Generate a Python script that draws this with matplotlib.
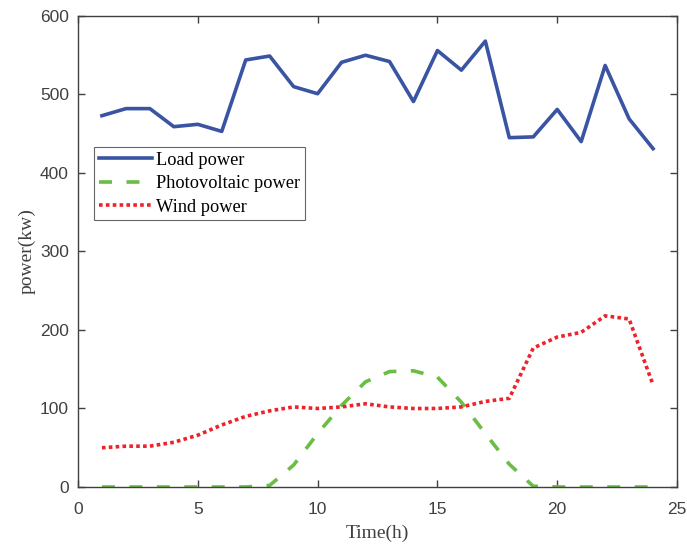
import matplotlib
matplotlib.use("Agg")
import matplotlib.pyplot as plt

hours = list(range(1, 25))
load_power = [473, 482, 482, 459, 462, 453, 544, 549, 510, 501, 541, 550,
              542, 491, 556, 531, 568, 445, 446, 481, 440, 537, 469, 431]
pv_power = [0, 0, 0, 0, 0, 0, 0, 2, 28, 68, 104, 134,
            147, 148, 140, 108, 68, 29, 1, 0, 0, 0, 0, 0]
wind_power = [50, 52, 52, 57, 66, 79, 90, 97, 102, 100, 102, 106,
              102, 100, 100, 102, 109, 113, 177, 191, 197, 218, 214, 130]
series_labels = ["Load power", "Photovoltaic power", "Wind power"]

fig = plt.figure(figsize=(6.87, 5.44), dpi=100)
ax = fig.add_axes([0.1135, 0.1048, 0.872, 0.8658])

ax.plot(hours, load_power, color="#3a54a4", lw=2.6, label=series_labels[0])
ax.plot(hours, pv_power, color="#6abd45", lw=2.6, dashes=(3.6, 4.0),
        label=series_labels[1])
ax.plot(hours, wind_power, color="#ee2228", lw=2.6, dashes=(1.0, 0.9),
        label=series_labels[2])

ax.set_xlim(0, 25)
ax.set_ylim(0, 600)
ax.set_xticks([0, 5, 10, 15, 20, 25])
ax.set_yticks([0, 100, 200, 300, 400, 500, 600])

for s in ax.spines.values():
    s.set_color("#404040")
    s.set_linewidth(1.0)
ax.tick_params(direction="in", top=True, right=True, length=5, width=1.0,
               color="#404040", labelcolor="#404040", labelsize=12.5)
ax.tick_params(axis="x", pad=10.5)
ax.tick_params(axis="y", pad=6.5)
for lab in ax.get_xticklabels() + ax.get_yticklabels():
    lab.set_fontfamily("Liberation Sans")

ax.set_xlabel("Time(h)", fontfamily="Liberation Serif", fontsize=14,
              color="#404040", labelpad=6)
ax.set_ylabel("power(kw)", fontfamily="Liberation Serif", fontsize=14,
              color="#404040", labelpad=3)

leg = ax.legend(loc="upper left", bbox_to_anchor=(0.027, 0.722),
                prop={"family": "Liberation Serif", "size": 13.2},
                frameon=True, fancybox=False, edgecolor="#404040",
                handlelength=2.9, handletextpad=0.25, borderpad=0.25,
                labelspacing=0.36, borderaxespad=0)
leg.get_frame().set_linewidth(0.8)

fig.savefig("out.png", dpi=100)
